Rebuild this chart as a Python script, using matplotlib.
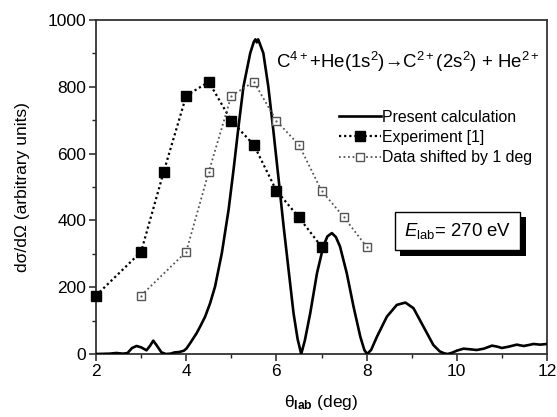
import matplotlib
matplotlib.use("Agg")
import matplotlib.pyplot as plt
import matplotlib.patheffects as pe

plt.rcParams['font.family'] = ['Liberation Sans', 'DejaVu Sans']
plt.rcParams['mathtext.fontset'] = 'custom'
plt.rcParams['mathtext.rm'] = 'Liberation Sans'
plt.rcParams['mathtext.it'] = 'Liberation Sans:italic'
plt.rcParams['mathtext.bf'] = 'Liberation Sans:bold'

# Present calculation
calc_x = [2.0, 2.3, 2.45, 2.6, 2.7, 2.8, 2.9, 3.0, 3.12, 3.2, 3.27, 3.35, 3.45, 3.55,
          3.65, 3.75, 3.85, 3.95, 4.01, 4.1, 4.23, 4.32, 4.42, 4.53, 4.64, 4.79, 4.94,
          5.05, 5.16, 5.27, 5.42, 5.5, 5.535, 5.565, 5.595, 5.63, 5.71, 5.82, 5.93, 6.05,
          6.16, 6.27, 6.38, 6.47, 6.55, 6.63, 6.75, 6.9, 7.04, 7.13, 7.23, 7.32, 7.41,
          7.56, 7.71, 7.86, 7.95, 8.01, 8.1, 8.23, 8.45, 8.67, 8.86, 9.04, 9.26, 9.48,
          9.62, 9.72, 9.8, 9.9, 10.0, 10.15, 10.3, 10.44, 10.6, 10.78, 10.9, 11.0, 11.15,
          11.33, 11.48, 11.6, 11.7, 11.85, 12.0]
calc_y = [0, 1, 3, 1, 3, 18, 24, 20, 11, 25, 40, 25, 5, 0,
          1, 5, 6, 10, 17, 35, 62, 85, 112, 152, 202, 302, 432,
          552, 681, 801, 901, 935, 942, 933, 942, 930, 901, 801, 672, 522,
          382, 252, 122, 45, 0, 40, 122, 242, 322, 352, 362, 350, 322,
          242, 142, 52, 12, 0, 12, 52, 112, 147, 154, 137, 82, 27,
          8, 2, 0, 4, 10, 16, 14, 12, 16, 25, 22, 18, 22,
          28, 24, 27, 30, 28, 30]

# Experiment [1]
exp_x = [2.0, 3.0, 3.5, 4.0, 4.5, 5.0, 5.5, 6.0, 6.5, 7.0]
exp_y = [175, 306, 545, 773, 815, 698, 626, 489, 409, 321]

# Data shifted by 1 deg
shift_x = [3.0, 4.0, 4.5, 5.0, 5.5, 6.0, 6.5, 7.0, 7.5, 8.0]
shift_y = [175, 306, 545, 773, 815, 698, 626, 489, 409, 321]

x_ticks = [2, 4, 6, 8, 10, 12]
y_ticks = [0, 200, 400, 600, 800, 1000]

fig = plt.figure(figsize=(5.57, 4.17), dpi=100)
ax = fig.add_axes([96/557, 63/417, 451/557, 334/417])

ax.plot(calc_x, calc_y, color='black', lw=1.9, solid_joinstyle='round',
        label='Present calculation', zorder=3)
ax.plot(exp_x, exp_y, color='black', lw=1.6, linestyle=(0, (1, 1.3)),
        marker='s', markersize=7.2, markerfacecolor='black', markeredgecolor='black',
        label='Experiment [1]', zorder=4, clip_on=False)
ax.plot(shift_x, shift_y, color='#555555', lw=1.3, linestyle=(0, (1, 1.5)),
        marker='s', markersize=6.0, markerfacecolor='white', markeredgecolor='#555555',
        markeredgewidth=1.0, label='Data shifted by 1 deg', zorder=4)
ax.plot(shift_x, shift_y, linestyle='none', marker='.', markersize=1.2,
        color='#555555', zorder=5)

ax.set_xlim(2, 12)
ax.set_ylim(0, 1000)
ax.set_xticks(x_ticks)
ax.set_yticks(y_ticks)
ax.set_xticks([3, 5, 7, 9, 11], minor=True)
ax.set_yticks([100, 300, 500, 700, 900], minor=True)
ax.tick_params(axis='both', which='major', direction='out', length=5, width=1.1,
               labelsize=12.5, colors='#222222', labelcolor='black', pad=2)
ax.tick_params(axis='both', which='minor', direction='out', length=3, width=1.0,
               colors='#222222')
for s in ax.spines.values():
    s.set_linewidth(1.3)
    s.set_color('#333333')

ax.set_xlabel('θ$_{\\mathbf{lab}}$ (deg)', fontsize=12.5, labelpad=10)
ax.set_ylabel('dσ/dΩ (arbitrary units)', fontsize=12.5, labelpad=13)

ax.text(0.692, 0.874, 'C$^{4+}$+He(1s$^2$)→C$^{2+}$(2s$^2$) + He$^{2+}$',
        transform=ax.transAxes, ha='center', va='center', fontsize=13.4)

leg = ax.legend(loc='upper left', bbox_to_anchor=(0.522, 0.755), frameon=False,
                fontsize=11.4, handlelength=2.6, handletextpad=0.1, labelspacing=0.33,
                borderpad=0, numpoints=1)

txt = r'$E_{\mathrm{lab}}$= 270 eV'
t = ax.text(0.8016, 0.368, txt, transform=ax.transAxes, ha='center', va='center',
            fontsize=13.4, color='black', zorder=6,
            bbox=dict(boxstyle='square,pad=0.5', facecolor='white', edgecolor='black', lw=1))
t.get_bbox_patch().set_path_effects([
    pe.SimplePatchShadow(offset=(3.8, -3.8), shadow_rgbFace='black', alpha=1.0),
    pe.Normal()])

fig.savefig('out.png', dpi=100)
